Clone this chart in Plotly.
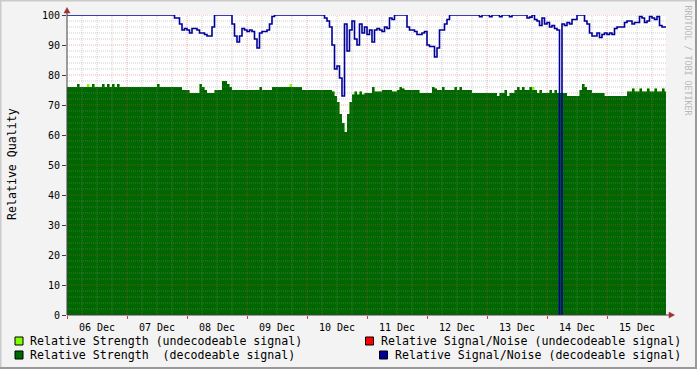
import plotly.graph_objects as go
import pandas as pd

# ---------------- data (hourly, starting 06 Dec 00:00) ----------------
start = pd.Timestamp("2008-12-06 00:00")

snr_decodeable = (
    [100] * 24
    + [100] * 19 + [99, 99, 97, 95, 95.5]
    + [95, 94, 95.5, 95.5, 95, 94, 94, 93.5, 93, 93, 96, 100, 100, 100, 100, 100, 100, 100, 97, 93, 91, 93, 95.5, 95]
    + [94.5, 95, 94.5, 92, 89, 94, 94.5, 94.5, 95, 97, 99.5] + [100] * 13
    + [100] * 7 + [99, 98, 96, 90, 82, 83, 79, 73, 97, 88, 95, 98, 92, 90, 97, 94, 96]
    + [93.5, 95, 91, 95, 95.5, 95, 94.5, 96, 95.5, 99, 98.5, 100, 100, 100, 100, 100, 96, 95, 95, 94.5, 93.5, 93.5, 94, 94.5]
    + [90, 89.5, 89.5, 86, 89, 95, 95, 97, 98.5] + [100] * 12 + [99.4, 100, 100]
    + [100, 99.4, 100, 100, 100, 99.4, 100, 100, 100, 99.4, 100, 100, 100, 100, 100, 100, 99, 99.3, 100, 98.5, 98, 96.5, 99, 97]
    + [97.5, 96, 96.5, 95.5, 95, 0, 97, 96.5, 97.5, 97, 98.5, 98.5, 100, 100, 100, 98, 97, 94, 93, 93, 94, 92.5, 93.5, 94]
    + [93.5, 94, 93.5, 95.5, 96, 96, 96, 97.5, 98, 98, 97, 97.5, 97.5, 99.5, 99, 97.5, 98, 99.5, 99, 98.5, 99.5, 96.5, 96, 96]
)

strength_decodeable = (
    [76, 76, 76, 76, 77, 76, 76, 76, 76, 76, 77, 76, 76, 76, 77, 76, 77, 76, 77, 76, 77, 76, 76, 76]
    + [76] * 12 + [77] + [76] * 9 + [75, 75]
    + [75, 74, 74, 74, 74, 77, 76, 75, 74, 74, 74, 75, 75, 75, 78, 78, 77, 76, 75, 75, 75, 75, 75, 75]
    + [75, 75, 75, 75, 75, 76, 75, 75, 75, 75] + [76] * 12 + [75, 75]
    + [75] * 10 + [74.5, 73, 71, 67, 64, 61, 67, 71, 73.5, 74.5, 73.5, 74.5, 73.5, 74]
    + [74, 74, 76, 74.5, 74.5, 74.5, 75, 75, 75, 75, 74.5, 74.5, 75, 76, 75.5, 75, 75, 75, 75, 75, 75, 74, 74, 74]
    + [74, 74, 76, 75.5, 75, 75, 76, 75, 75, 75, 75, 76, 75, 76, 75, 75, 75, 75, 74, 74, 74, 74, 74, 74]
    + [74, 74, 74, 74, 73, 74, 74, 75, 73, 74, 74, 75, 76, 75, 76, 75, 75, 76, 75, 75, 74, 75, 74, 74]
    + [74, 75, 74, 75, 74, 74, 74, 74, 73, 73, 73, 73, 73, 75, 77, 76, 75, 75, 74, 74, 74, 74, 74, 73]
    + [73] * 8 + [74.5, 74.5, 75.5, 74.5, 74.5, 75.5, 74.5, 74.5, 75.5, 74.5, 74.5, 75.5, 74.5, 74.5, 75.5, 74.5]
)

undecodeable_hours = [8, 89, 186]
undecodeable_strength = [1, 1, 1]

y_tick_values = list(range(0, 101, 10))

legend_labels = [
    "Relative Strength (undecodeable signal)",
    "Relative Strength  (decodeable signal)",
    "Relative Signal/Noise (undecodeable signal)",
    "Relative Signal/Noise (decodeable signal)",
]
legend_colors = ["#7FFF00", "#006600", "#FF0000", "#000099"]

# ---------------- geometry ----------------
W, H = 697, 369
L, R, T, B = 67, 666, 15, 315
n = len(snr_decodeable)
x_end = start + pd.Timedelta(hours=(R - L) / 2.5)

def hx(h):
    return start + pd.Timedelta(hours=h)

xs = [hx(h) for h in range(n + 1)]
snr_y = snr_decodeable + [snr_decodeable[-1]]
str_y = strength_decodeable + [strength_decodeable[-1]]
undec = [0] * n
for h, v in zip(undecodeable_hours, undecodeable_strength):
    undec[h] = v
total_y = [a + b for a, b in zip(strength_decodeable, undec)] + [strength_decodeable[-1]]

def px(xp):
    return (xp - L) / (R - L)

def py(yp):
    return (B - yp) / (B - T)

MONO = "DejaVu Sans Mono"
fig = go.Figure()

fig.add_trace(go.Scatter(x=xs, y=total_y, mode="lines", line=dict(width=0, shape="hv"),
                         fill="tozeroy", fillcolor="#7FFF00", hoverinfo="skip"))
fig.add_trace(go.Scatter(x=xs, y=str_y, mode="lines", line=dict(width=0, shape="hv"),
                         fill="tozeroy", fillcolor="#006600", hoverinfo="skip"))

# grid (drawn over the area, like rrdtool)
def hlines(vals):
    gx, gy = [], []
    for v in vals:
        gx += [start, x_end, None]
        gy += [v, v, None]
    return gx, gy

def vlines(hrs):
    gx, gy = [], []
    for h in hrs:
        gx += [hx(h), hx(h), None]
        gy += [0, 100, None]
    return gx, gy

minor_y = [v for v in range(2, 101, 2) if v % 10 != 0]
major_y = list(range(10, 101, 10))
minor_h = [h for h in range(6, 240, 6) if h % 24 != 0]
major_h = list(range(24, 240, 24))

mgx, mgy = hlines(minor_y)
vgx, vgy = vlines(minor_h)
fig.add_trace(go.Scatter(x=mgx + vgx, y=mgy + vgy, mode="lines", hoverinfo="skip",
                         line=dict(color="rgba(140,140,140,0.42)", width=1, dash="1px,1px")))
Mgx, Mgy = hlines(major_y)
Vgx, Vgy = vlines(major_h)
fig.add_trace(go.Scatter(x=Mgx + Vgx, y=Mgy + Vgy, mode="lines", hoverinfo="skip",
                         line=dict(color="rgba(220,70,70,0.42)", width=1, dash="1px,1px")))

fig.add_trace(go.Scatter(x=xs, y=snr_y, mode="lines", hoverinfo="skip",
                         line=dict(color="#000099", width=1.6, shape="hv")))

shapes = []
# frame borders
shapes.append(dict(type="line", xref="paper", yref="paper", x0=px(0), x1=px(W), y0=py(0.5), y1=py(0.5),
                   line=dict(color="#CBCBCB", width=2)))
shapes.append(dict(type="line", xref="paper", yref="paper", x0=px(0.5), x1=px(0.5), y0=py(0), y1=py(H),
                   line=dict(color="#CBCBCB", width=2)))
shapes.append(dict(type="line", xref="paper", yref="paper", x0=px(0), x1=px(W), y0=py(H - 1), y1=py(H - 1),
                   line=dict(color="#999999", width=2)))
shapes.append(dict(type="line", xref="paper", yref="paper", x0=px(W - 1), x1=px(W - 1), y0=py(0), y1=py(H),
                   line=dict(color="#999999", width=2)))
# axes
AX = "#404040"
shapes.append(dict(type="line", xref="paper", yref="paper", x0=px(L), x1=px(L), y0=py(B), y1=py(12),
                   line=dict(color=AX, width=1)))
shapes.append(dict(type="line", xref="paper", yref="paper", x0=px(L), x1=px(670), y0=py(B), y1=py(B),
                   line=dict(color=AX, width=1)))
ARW = "#A33030"
shapes.append(dict(type="path", xref="paper", yref="paper",
                   path=f"M {px(L)} {py(7.5)} L {px(L - 3)} {py(13)} L {px(L + 3)} {py(13)} Z",
                   fillcolor=ARW, line=dict(color=ARW, width=0.5)))
shapes.append(dict(type="path", xref="paper", yref="paper",
                   path=f"M {px(674.5)} {py(B)} L {px(669)} {py(B - 3)} L {px(669)} {py(B + 3)} Z",
                   fillcolor=ARW, line=dict(color=ARW, width=0.5)))

annotations = []
# legend
leg_pos = [(15, 341), (15, 355), (365.5, 341), (379.5, 355)]
for (lx, ly), lab, col in zip(leg_pos, legend_labels, legend_colors):
    shapes.append(dict(type="rect", xref="paper", yref="paper",
                       x0=px(lx), x1=px(lx + 8), y0=py(ly - 4), y1=py(ly + 4),
                       fillcolor=col, line=dict(color="#000000", width=1)))
    annotations.append(dict(xref="paper", yref="paper", x=px(lx + 14), y=py(ly), text=lab,
                            showarrow=False, xanchor="left", yanchor="middle",
                            font=dict(family=MONO, size=11.6, color="#000000"), borderpad=0))

annotations.append(dict(xref="paper", yref="paper", x=px(12), y=py(164), text="Relative Quality",
                        textangle=-90, showarrow=False, xanchor="center", yanchor="middle",
                        font=dict(family=MONO, size=11.6, color="#000000")))
annotations.append(dict(xref="paper", yref="paper", x=px(687.5), y=py(60), text="RRDTOOL / TOBI OETIKER",
                        textangle=90, showarrow=False, xanchor="center", yanchor="middle",
                        font=dict(family=MONO, size=8.3, color="#B8B8B8")))

fig.update_layout(
    width=W, height=H,
    margin=dict(l=L, r=W - R, t=T, b=H - B, pad=0, autoexpand=False),
    paper_bgcolor="#F3F3F3", plot_bgcolor="#FFFFFF",
    showlegend=False,
    shapes=shapes, annotations=annotations,
    xaxis=dict(type="date", range=[start, x_end], showgrid=False, zeroline=False, automargin=False,
               dtick=86400000, tick0=start, tickformat="%d %b", ticklabelmode="period",
               ticks="outside", ticklen=3, tickcolor="#D04040",
               tickfont=dict(family=MONO, size=10, color="#000000"), fixedrange=True),
    yaxis=dict(range=[0, 100], showgrid=False, zeroline=False, automargin=False,
               tickmode="array", tickvals=y_tick_values,
               ticks="outside", ticklen=4, tickcolor=AX,
               tickfont=dict(family=MONO, size=10, color="#000000"), fixedrange=True),
)

fig.write_html("out.html")
